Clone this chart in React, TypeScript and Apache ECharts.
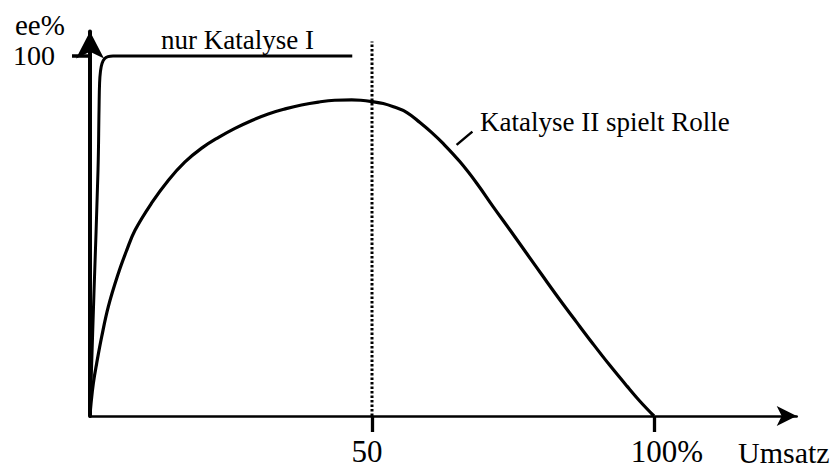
import { useEffect, useRef } from "react";
import * as echarts from "echarts";

// Conversion (%) on the x axis, ee (%) on the y axis
const xTicks = [50, 100];
const xTickLabels = ["50", "100%"];
const yTicks = [100];
const yTickLabels = ["100"];

// Only catalyst I active: ee jumps to 100 almost immediately
const onlyCatalystI: [number, number][] = [
  [0, 0],
  [0.7, 34],
  [1.42, 68.3],
  [1.6, 85],
  [1.7, 92.5],
  [1.86, 95.8],
  [2.13, 97.9],
  [2.57, 99.2],
  [3.19, 99.8],
  [4.08, 100],
  [46.5, 100],
];

// Catalyst II also plays a role
const withCatalystII: [number, number][] = [
  [0, 0],
  [0.18, 3.5],
  [0.59, 9.1],
  [1.18, 14.6],
  [2.07, 22.0],
  [3.25, 30.4],
  [5.02, 39.6],
  [6.5, 46.0],
  [7.98, 51.6],
  [10.9, 59.1],
  [13.9, 65.5],
  [16.8, 70.5],
  [19.8, 74.4],
  [22.8, 77.4],
  [25.7, 79.9],
  [28.7, 82.1],
  [31.6, 83.9],
  [34.6, 85.3],
  [37.5, 86.4],
  [40.5, 87.2],
  [43.4, 87.7],
  [46.4, 87.8],
  [48.0, 87.7],
  [50.1, 87.3],
  [52.0, 86.8],
  [53.8, 85.9],
  [56.2, 84.3],
  [58.5, 81.5],
  [60.6, 78.7],
  [62.6, 75.7],
  [65.6, 70.6],
  [68.6, 64.6],
  [71.5, 58.1],
  [74.5, 51.6],
  [77.4, 45.2],
  [80.4, 38.6],
  [83.3, 32.3],
  [86.3, 26.0],
  [89.2, 20.0],
  [92.2, 14.0],
  [95.2, 8.3],
  [97.5, 4.1],
  [100, 0],
];

// Marker at 50 % conversion
const halfConversion: [number, number][] = [
  [50, 0],
  [50, 104],
];

// Short leader line to the "Katalyse II" caption
const leader: [number, number][] = [
  [65.0, 75.3],
  [67.8, 79.0],
];

const FONT = '"Liberation Serif", "Times New Roman", serif';
const AXIS_FS = 31;
const NOTE_FS = 27;

export default function App() {
  const ref = useRef<HTMLDivElement>(null);

  useEffect(() => {
    if (!ref.current) return;
    const chart = echarts.init(ref.current, undefined, { renderer: "svg" });

    const solid = (data: [number, number][], width: number) => ({
      type: "line" as const,
      data,
      showSymbol: false,
      smooth: 0.4,
      lineStyle: { color: "#000", width },
      silent: true,
    });

    const note = (text: string, x: number, y: number, size: number) => ({
      type: "text" as const,
      x,
      y,
      style: { text, font: `${size}px ${FONT}`, fill: "#000", align: "left", verticalAlign: "middle" },
    });

    chart.setOption({
      animation: false,
      backgroundColor: "#fff",
      grid: { left: 90, right: 43.3, top: 31.5, bottom: 52 },
      xAxis: {
        type: "value",
        min: 0,
        max: 125.3,
        splitLine: { show: false },
        axisLine: {
          show: true,
          lineStyle: { color: "#000", width: 2.5 },
          symbol: ["none", "arrow"],
          symbolSize: [15, 20],
        },
        axisTick: {
          show: true,
          customValues: xTicks,
          length: 16,
          lineStyle: { color: "#000", width: 3.3 },
        },
        axisLabel: {
          show: true,
          customValues: xTicks,
          margin: 20,
          color: "#000",
          fontFamily: FONT,
          fontSize: AXIS_FS,
          formatter: (v: number) => {
            const i = xTicks.indexOf(v);
            const t = i >= 0 ? xTickLabels[i] : "";
            return v === 100 ? `{pct|${t}}` : `{mid|${t}}`;
          },
          rich: {
            mid: {
              fontFamily: FONT,
              fontSize: AXIS_FS,
              color: "#000",
              padding: [0, 10, 0, 0],
            },
            pct: {
              fontFamily: FONT,
              fontSize: AXIS_FS,
              color: "#000",
              padding: [0, 0, 0, 26],
            },
          },
        },
      },
      yAxis: {
        type: "value",
        min: 0,
        max: 106.8,
        splitLine: { show: false },
        axisLine: {
          show: true,
          lineStyle: { color: "#000", width: 4 },
          symbol: ["none", "arrow"],
          symbolSize: [21, 27],
        },
        axisTick: {
          show: true,
          customValues: yTicks,
          length: 18,
          lineStyle: { color: "#000", width: 3.5 },
        },
        axisLabel: {
          show: true,
          customValues: yTicks,
          margin: 35,
          color: "#000",
          fontFamily: FONT,
          fontSize: 28,
          formatter: (v: number) => {
            const i = yTicks.indexOf(v);
            return i >= 0 ? yTickLabels[i] : "";
          },
        },
      },
      series: [
        solid(onlyCatalystI, 3),
        solid(withCatalystII, 3.2),
        {
          type: "line",
          data: halfConversion,
          showSymbol: false,
          silent: true,
          lineStyle: { color: "#000", width: 3, type: [2.5, 2] },
        },
        {
          type: "line",
          data: leader,
          showSymbol: false,
          silent: true,
          lineStyle: { color: "#000", width: 2.5 },
        },
      ],
      graphic: [
        note("ee%", 15, 25, 29),
        note("nur Katalyse I", 161, 40, NOTE_FS),
        note("Katalyse II spielt Rolle", 480, 122, NOTE_FS),
        note("Umsatz", 738, 452, 30),
      ],
    });

    return () => chart.dispose();
  }, []);

  return (
    <div
      ref={ref}
      style={{ position: "fixed", left: 0, top: 0, width: 840, height: 468, background: "#fff" }}
    />
  );
}
